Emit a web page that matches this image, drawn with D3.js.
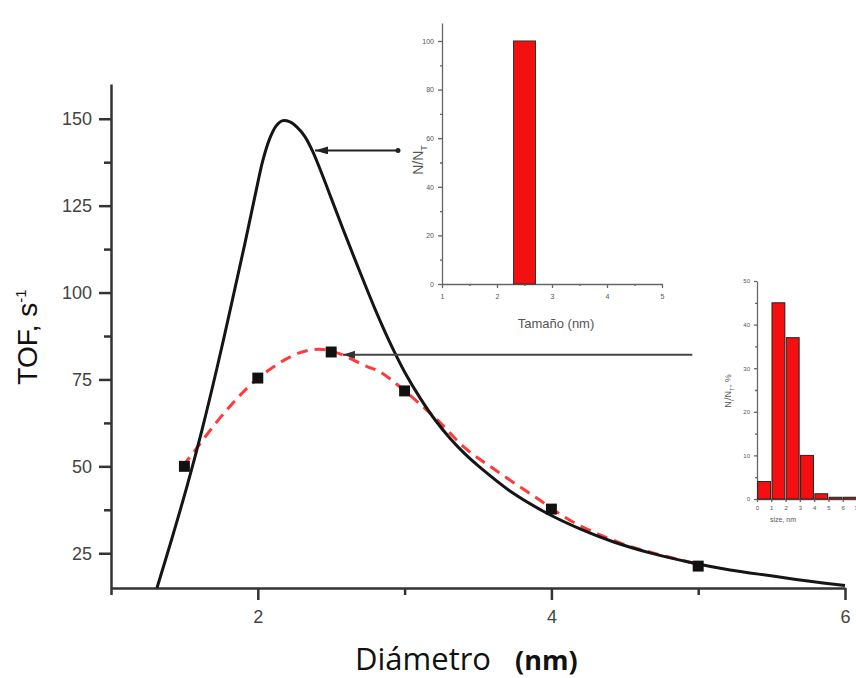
<!DOCTYPE html>
<html>
<head>
<meta charset="utf-8">
<script src="https://cdn.jsdelivr.net/npm/d3@7"></script>
<style>
  html, body { margin: 0; padding: 0; background: #fff; }
  svg { display: block; font-family: "Liberation Sans", Arial, sans-serif; }
  .axis path, .axis line { stroke: #333; stroke-width: 2.5; }
  .axis text { fill: #444; font-size: 18px; font-family: "Liberation Sans", Arial, sans-serif; }
  .inset path, .inset line { stroke: #666; stroke-width: 1.3; }
  .inset text { fill: #555; font-family: "Liberation Sans", Arial, sans-serif; }
</style>
</head>
<body>
<svg id="chart" width="856" height="678"></svg>
<script>
(function () {
  "use strict";

  // measured TOF points
  const pointDiameter = [1.5, 2, 2.5, 3, 4, 5];
  const pointTof = [50, 75.4, 82.9, 71.7, 37.7, 21.3];

  // solid model curve
  const modelDiameter = [1.313, 1.416, 1.518, 1.62, 1.722, 1.824, 1.913, 1.981, 2.035, 2.083, 2.124,
    2.165, 2.219, 2.267, 2.322, 2.376, 2.437, 2.505, 2.594, 2.696, 2.798, 2.901, 3.003, 3.105,
    3.207, 3.309, 3.411, 3.514, 3.738, 3.97, 4.195, 4.42, 4.672, 4.965, 5.217, 5.496, 5.748, 6.0];
  const modelTof = [15, 29.4, 44.3, 60.5, 78.3, 97.3, 114.3, 127.8, 138.1, 144.5, 147.9,
    149.4, 149.1, 147.6, 144.8, 140.4, 134.1, 126.6, 116.8, 105.9, 95.3, 85.5, 76.9, 69.7,
    63.4, 58.1, 53.6, 49.7, 42.3, 36.5, 32.0, 28.3, 25.1, 22.2, 20.2, 18.5, 17.0, 15.7];

  // dashed fit curve
  const fitDiameter = [1.49, 1.538, 1.79, 2.015, 2.287, 2.471, 2.744, 2.832, 3.2, 3.411, 3.616,
    3.888, 4.147, 4.467, 4.692, 4.965];
  const fitTof = [50.1, 52.7, 66.3, 75.8, 82.7, 83.5, 78.7, 77.2, 64.3, 55.3, 49.0,
    41.2, 34.0, 28.0, 25.1, 22.2];

  const xTicks = [2, 4, 6];
  const xMinorTicks = [1, 3, 5];
  const yTicks = [25, 50, 75, 100, 125, 150];
  const yMinorTicks = [37.5, 62.5, 87.5, 112.5, 137.5];

  // annotation arrows (data units): [tail x, head x, y]
  const arrowTop = [2.955, 2.39, 140.9];
  const arrowMid = [4.96, 2.58, 82.1];

  // upper inset histogram
  const topSize = [2.5];
  const topPct = [100];
  const topBinWidth = 0.4;
  const topXTicks = [1, 2, 3, 4, 5];
  const topXMinor = [1.5, 2.5, 3.5, 4.5];
  const topYTicks = [0, 20, 40, 60, 80, 100];
  const topYMinor = [10, 30, 50, 70, 90];

  // right inset histogram
  const rightSize = [0.5, 1.5, 2.5, 3.5, 4.5, 5.5, 6.5];
  const rightPct = [4, 45, 37, 10, 1.2, 0.4, 0.4];
  const rightXTicks = [0, 1, 2, 3, 4, 5, 6, 7];
  const rightYTicks = [0, 10, 20, 30, 40, 50];
  const rightYMinor = [5, 15, 25, 35, 45];

  const svg = d3.select("#chart");
  const fmt = d3.format("d");

  const defs = svg.append("defs");
  function arrowMarker(id, color, w, h) {
    defs.append("marker")
      .attr("id", id)
      .attr("viewBox", `0 0 ${w} ${h}`)
      .attr("refX", w)
      .attr("refY", h / 2)
      .attr("markerUnits", "userSpaceOnUse")
      .attr("markerWidth", w)
      .attr("markerHeight", h)
      .attr("orient", "auto")
      .append("path")
      .attr("d", `M0,0L${w},${h / 2}L0,${h}Z`)
      .attr("fill", color);
  }
  arrowMarker("headDark", "#222", 13, 8);
  arrowMarker("headGray", "#333", 12, 8);

  // ---------- main chart ----------
  const x = d3.scaleLinear().domain([1, 6]).range([111, 845]);
  const y = d3.scaleLinear().domain([15, 160]).range([588, 84]);

  svg.append("g").attr("class", "axis").attr("transform", "translate(111,0)")
    .call(d3.axisLeft(y).tickValues(yTicks).tickSize(12).tickSizeOuter(0).tickPadding(7).tickFormat(fmt));
  svg.append("g").attr("class", "axis").attr("transform", "translate(111,0)")
    .call(d3.axisLeft(y).tickValues(yMinorTicks).tickSize(7).tickSizeOuter(0).tickFormat(""))
    .select(".domain").remove();

  svg.append("g").attr("class", "axis").attr("transform", "translate(0,588)")
    .call(d3.axisBottom(x).tickValues(xTicks).tickSize(12).tickSizeOuter(0).tickPadding(10).tickFormat(fmt));
  svg.append("g").attr("class", "axis").attr("transform", "translate(0,588)")
    .call(d3.axisBottom(x).tickValues(xMinorTicks).tickSize(7).tickSizeOuter(0).tickFormat(""))
    .select(".domain").remove();

  const line = d3.line()
    .x(d => x(d[0]))
    .y(d => y(d[1]))
    .curve(d3.curveCatmullRom.alpha(0.5));

  svg.append("path")
    .datum(d3.zip(fitDiameter, fitTof))
    .attr("d", line)
    .attr("fill", "none")
    .attr("stroke", "#ff3a3a")
    .attr("stroke-width", 3)
    .attr("stroke-dasharray", "11,7");

  svg.append("path")
    .datum(d3.zip(modelDiameter, modelTof))
    .attr("d", line)
    .attr("fill", "none")
    .attr("stroke", "#151515")
    .attr("stroke-width", 3);

  svg.append("g")
    .selectAll("path")
    .data(d3.zip(pointDiameter, pointTof))
    .join("path")
    .attr("transform", d => `translate(${x(d[0])},${y(d[1])})`)
    .attr("d", d3.symbol(d3.symbolSquare, 120))
    .attr("fill", "#111");

  // arrows
  svg.append("line")
    .attr("x1", x(arrowTop[0])).attr("x2", x(arrowTop[1]))
    .attr("y1", y(arrowTop[2])).attr("y2", y(arrowTop[2]))
    .attr("stroke", "#222").attr("stroke-width", 2)
    .attr("marker-end", "url(#headDark)");
  svg.append("circle")
    .attr("cx", x(arrowTop[0])).attr("cy", y(arrowTop[2])).attr("r", 2.5)
    .attr("fill", "#222");

  svg.append("line")
    .attr("x1", x(arrowMid[0])).attr("x2", x(arrowMid[1]))
    .attr("y1", y(arrowMid[2])).attr("y2", y(arrowMid[2]))
    .attr("stroke", "#444").attr("stroke-width", 2.2)
    .attr("marker-end", "url(#headGray)");

  // axis titles
  const yTitle = svg.append("text")
    .attr("transform", "translate(37,337) rotate(-90)")
    .attr("text-anchor", "middle")
    .attr("fill", "#111")
    .style("font-size", "28px")
    .text("TOF, s");
  yTitle.append("tspan")
    .attr("dy", "-11")
    .style("font-size", "15px")
    .text("-1");

  const xTitle = svg.append("text")
    .attr("x", 355)
    .attr("y", 670)
    .attr("fill", "#111")
    .style("font-family", "'Open Sans', 'Noto Sans', sans-serif");
  xTitle.append("tspan").style("font-size", "31px").text("Diámetro");
  xTitle.append("tspan").attr("x", 515).style("font-size", "27px").style("font-weight", "bold").text("(nm)");

  // ---------- upper inset ----------
  const tx = d3.scaleLinear().domain([1, 5]).range([442, 662]);
  const ty = d3.scaleLinear().domain([0, 107.4]).range([284, 23]);
  const topInset = svg.append("g").attr("class", "inset");

  topInset.append("g").attr("transform", "translate(0,284)")
    .call(d3.axisBottom(tx).tickValues(topXTicks).tickSize(4).tickSizeOuter(0).tickPadding(6).tickFormat(fmt))
    .selectAll("text").style("font-size", "7px");
  topInset.append("g").attr("transform", "translate(0,284)")
    .call(d3.axisBottom(tx).tickValues(topXMinor).tickSize(2).tickSizeOuter(0).tickFormat(""))
    .select(".domain").remove();
  topInset.append("g").attr("transform", "translate(442,0)")
    .call(d3.axisLeft(ty).tickValues(topYTicks).tickSize(4).tickSizeOuter(0).tickPadding(4).tickFormat(fmt))
    .selectAll("text").style("font-size", "7px");
  topInset.append("g").attr("transform", "translate(442,0)")
    .call(d3.axisLeft(ty).tickValues(topYMinor).tickSize(2).tickSizeOuter(0).tickFormat(""))
    .select(".domain").remove();

  topInset.append("g")
    .selectAll("rect")
    .data(d3.zip(topSize, topPct))
    .join("rect")
    .attr("x", d => tx(d[0] - topBinWidth / 2))
    .attr("width", d => tx(d[0] + topBinWidth / 2) - tx(d[0] - topBinWidth / 2))
    .attr("y", d => ty(d[1]))
    .attr("height", d => ty(0) - ty(d[1]))
    .attr("fill", "#f41010")
    .attr("stroke", "#333")
    .attr("stroke-width", 1);

  const topYLabel = topInset.append("text")
    .attr("transform", "translate(423,160) rotate(-90)")
    .attr("text-anchor", "middle")
    .attr("fill", "#333")
    .style("font-size", "14px")
    .text("N/N");
  topYLabel.append("tspan").attr("dy", 4).style("font-size", "9px").text("T");

  topInset.append("text")
    .attr("x", 556)
    .attr("y", 328)
    .attr("text-anchor", "middle")
    .attr("fill", "#111")
    .style("font-size", "13px")
    .text("Tamaño (nm)");

  // ---------- right inset ----------
  const rx = d3.scaleLinear().domain([0, 7]).range([757, 857]);
  const ry = d3.scaleLinear().domain([0, 50]).range([499, 281]);
  const rightInset = svg.append("g").attr("class", "inset");

  rightInset.append("g").attr("transform", "translate(0,499)")
    .call(d3.axisBottom(rx).tickValues(rightXTicks).tickSize(3).tickSizeOuter(0).tickPadding(4).tickFormat(fmt))
    .selectAll("text")
    .style("font-size", "6px")
    .attr("text-anchor", d => d === 7 ? "end" : "middle");
  rightInset.append("g").attr("transform", "translate(757,0)")
    .call(d3.axisLeft(ry).tickValues(rightYTicks).tickSize(3).tickSizeOuter(0).tickPadding(4).tickFormat(fmt))
    .selectAll("text").style("font-size", "6px");
  rightInset.append("g").attr("transform", "translate(757,0)")
    .call(d3.axisLeft(ry).tickValues(rightYMinor).tickSize(2).tickSizeOuter(0).tickFormat(""))
    .select(".domain").remove();

  rightInset.append("g")
    .selectAll("rect")
    .data(d3.zip(rightSize, rightPct))
    .join("rect")
    .attr("x", d => rx(d[0] - 0.45))
    .attr("width", d => rx(d[0] + 0.45) - rx(d[0] - 0.45))
    .attr("y", d => ry(d[1]))
    .attr("height", d => ry(0) - ry(d[1]))
    .attr("fill", "#f41010")
    .attr("stroke", "#222")
    .attr("stroke-width", 1);

  const rightYLabel = rightInset.append("text")
    .attr("transform", "translate(731,391) rotate(-90)")
    .attr("text-anchor", "middle")
    .attr("fill", "#333")
    .style("font-size", "9px")
    .text("N");
  rightYLabel.append("tspan").attr("dy", 3).style("font-size", "6px").text("i");
  rightYLabel.append("tspan").attr("dy", -3).text("/N");
  rightYLabel.append("tspan").attr("dy", 3).style("font-size", "6px").text("T");
  rightYLabel.append("tspan").attr("dy", -3).text(", %");

  rightInset.append("text")
    .attr("x", 783)
    .attr("y", 522)
    .attr("text-anchor", "middle")
    .attr("fill", "#444")
    .style("font-size", "7px")
    .text("size, nm");
})();
</script>
</body>
</html>
